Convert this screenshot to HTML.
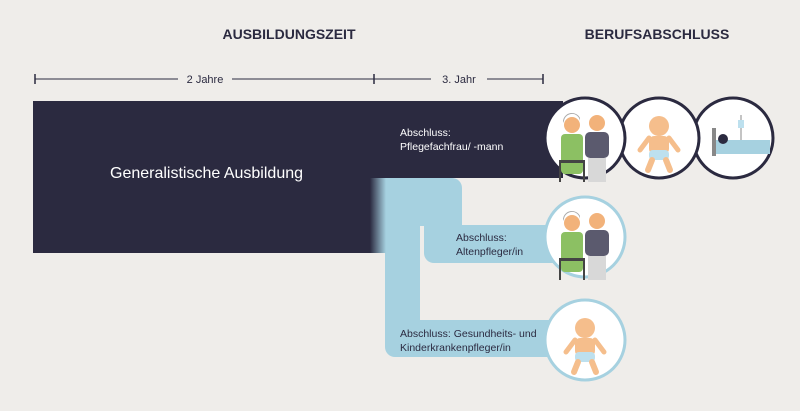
<!DOCTYPE html>
<html><head><meta charset="utf-8"><style>
body{margin:0;background:#efedea;}
svg{display:block;font-family:"Liberation Sans",sans-serif;}
</style></head><body>
<svg width="800" height="411" viewBox="0 0 800 411">
<defs>
<linearGradient id="g" x1="0" x2="1" y1="0" y2="0">
<stop offset="0" stop-color="#2b2a40"/><stop offset="1" stop-color="#a6d1e0"/>
</linearGradient>
<g id="elders">
<circle cx="-13" cy="-15" r="8" fill="#f2b27a"/>
<path d="M-21,-17 a8,8 0 0 1 16,-2 l0,-3 a9,9 0 0 0 -17,3z" fill="#a9a9a9"/>
<rect x="-24" y="-6" width="22" height="40" rx="4" fill="#8cc063"/>
<rect x="-26" y="20" width="26" height="3" fill="#444"/>
<rect x="-26" y="20" width="2" height="22" fill="#444"/>
<rect x="-2" y="20" width="2" height="22" fill="#444"/>
<circle cx="12" cy="-17" r="8" fill="#f2b27a"/>
<rect x="0" y="-8" width="24" height="26" rx="5" fill="#5b5a6e"/>
<rect x="3" y="18" width="18" height="24" fill="#d8d8d8"/>
</g>
<g id="baby">
<circle cx="0" cy="-14" r="10" fill="#f5be8c"/>
<rect x="-10" y="-4" width="20" height="18" rx="5" fill="#f5be8c"/>
<path d="M-10,-2 l-9,12 M10,-2 l9,12" stroke="#f5be8c" stroke-width="5" stroke-linecap="round"/>
<rect x="-10" y="10" width="20" height="10" rx="4" fill="#bde0ee"/>
<path d="M-7,20 l-4,10 M7,20 l4,10" stroke="#f5be8c" stroke-width="6" stroke-linecap="round"/>
</g>
</defs>
<text x="289" y="39" text-anchor="middle" font-size="14" font-weight="bold" fill="#2b2a40">AUSBILDUNGSZEIT</text>
<text x="657" y="39" text-anchor="middle" font-size="14" font-weight="bold" fill="#2b2a40">BERUFSABSCHLUSS</text>
<g stroke="#2b2a40" stroke-width="1">
<line x1="35" y1="79" x2="178" y2="79"/><line x1="232" y1="79" x2="374" y2="79"/>
<line x1="374" y1="79" x2="431" y2="79"/><line x1="487" y1="79" x2="543" y2="79"/>
<line x1="35" y1="74" x2="35" y2="84" stroke-width="1.5"/><line x1="374" y1="74" x2="374" y2="84" stroke-width="1.5"/><line x1="543" y1="74" x2="543" y2="84" stroke-width="1.5"/>
</g>
<text x="205" y="83" text-anchor="middle" font-size="11" fill="#2b2a40">2 Jahre</text>
<text x="459" y="83" text-anchor="middle" font-size="11" fill="#2b2a40">3. Jahr</text>
<rect x="33" y="101" width="530" height="77" fill="#2b2a40"/>
<rect x="33" y="178" width="340" height="75" fill="#2b2a40"/>
<g fill="#a6d1e0">
<path d="M370,178 H452 a10,10 0 0 1 10,10 V226 H370z"/>
<path d="M385,200 H420 V320 H560 V357 H395 a10,10 0 0 1 -10,-10z"/>
<path d="M424,225 H560 V263 H434 a10,10 0 0 1 -10,-10z"/>
</g>
<rect x="370" y="178" width="16" height="75" fill="url(#g)"/>
<text x="110" y="178" font-size="16" fill="#fff">Generalistische Ausbildung</text>
<g font-size="10.5" fill="#fff"><text x="400" y="136">Abschluss:</text><text x="400" y="150">Pflegefachfrau/ -mann</text></g>
<g font-size="10.5" fill="#2b2a40"><text x="456" y="241">Abschluss:</text><text x="456" y="255">Altenpfleger/in</text>
<text x="400" y="337">Abschluss: Gesundheits- und</text><text x="400" y="351">Kinderkrankenpfleger/in</text></g>
<g stroke="#2b2a40" stroke-width="3" fill="#fff">
<circle cx="733" cy="138" r="40"/><circle cx="659" cy="138" r="40"/><circle cx="585" cy="138" r="40"/>
</g>
<g stroke="#a6d1e0" stroke-width="3" fill="#fff">
<circle cx="585" cy="237" r="40"/><circle cx="585" cy="340" r="40"/>
</g>
<use href="#elders" x="585" y="140"/>
<use href="#baby" x="659" y="140"/>
<use href="#elders" x="585" y="238"/>
<use href="#baby" x="585" y="342"/>
<g>
<rect x="712" y="128" width="4" height="28" fill="#888"/>
<rect x="716" y="140" width="54" height="14" fill="#a6d1e0"/>
<circle cx="723" cy="139" r="5" fill="#2b2a40"/>
<line x1="741" y1="115" x2="741" y2="140" stroke="#888"/>
<rect x="738" y="120" width="6" height="8" fill="#bde0ee"/>
</g>
</svg>
</body></html>
